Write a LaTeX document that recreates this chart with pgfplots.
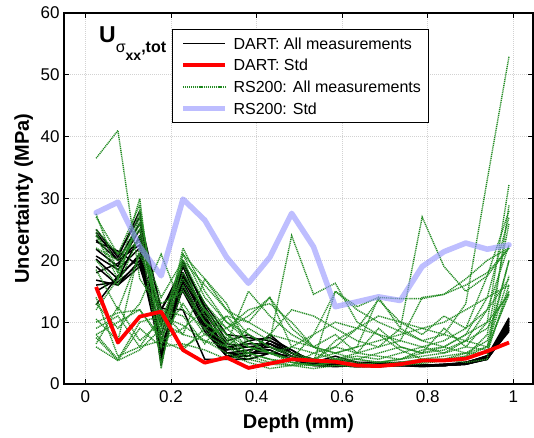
\documentclass[border=0pt]{standalone}
\usepackage{fontspec}
\setmainfont{Liberation Sans}
\usepackage{pgfplots}
\usepackage{pgfplotstable}
\pgfplotsset{compat=1.18}

\definecolor{rsgreen}{RGB}{34,139,34}
\definecolor{rsblue}{RGB}{150,150,255}

% One row per measurement series, transposed into columns below.
\pgfplotstableread{
name k0 k1 k2 k3 k4 k5 k6 k7 k8 k9 k10 k11 k12 k13 k14 k15 k16 k17 k18 k19
x  0.025 0.076 0.127 0.177 0.228 0.279 0.330 0.381 0.431 0.482 0.533 0.584 0.635 0.685 0.736 0.787 0.838 0.889 0.939 0.990
b1  25   20.5 28   3    20   12   6    5    8    5    3.5  3    3    3    3    3    3    3.2  4    10.5
b2  24   21   27   12   19   11   5    4.5  7    5    3.5  3    2.8  3    3    3    3.2  3.3  4    10
b3  23.3 20   26   12.2 12   4    4    4    5    4    3    3    2.8  2.8  3    3    3    3.2  4.2  9.5
b4  21.8 19   25   9.8  18   10   5    5.5  6    4.5  3.5  3    3    3    3    2.8  3    3.5  4.5  9
b5  20.7 18.5 22   4    17   10.5 5.5  6    5.5  4    3.5  3.2  3.2  3    3    3    3    3.4  4.2  8.5
b6  20.2 17   21   6    16   9.5  4.5  5    5    4    3    3    3    3.3  3.5  3    3    3.2  4    8.8
b7  19   16   20   5    15.5 9    4.5  4.5  6.5  4.5  3.2  3    3    3    3    3    3    3.3  4.3  9.8
b8  16.8 16   19   9.5  19.5 12.5 7    8    6    4.5  3.5  4    3.5  3    3.5  3    3    3.5  4.5  10.7
b9  16   16.5 19.5 12   18   11   5.5  7    7.5  5.5  3.5  4.5  3.5  3.5  3    3    3    3.4  4.6  10.2
b10 12.8 17.5 20.5 7    17.5 10   6    6.5  6.5  5    4    3.5  3    3    3    3    3.2  3.5  4.4  9.2
b11 23   21.5 19   8    19   13   8    7.5  7    5.5  3.5  3    3    3.5  3.2  3    3    3.3  4    9
b12 18   19.5 23.5 4.5  16.5 9.5  5    5    5.5  4    3    2.8  3    3    3    3    3    3.2  4.1  8.7
b13 15   17   24   10.5 15   8.5  4.5  4    5    4.5  3.2  3.5  3.2  3.2  3    3    3    3.3  4.5  9.6
b14 24.5 20   22.5 5.5  17   11.5 6.5  6    6.5  5    4    3.3  3    3    3    3    3    3.5  4.3  10.3
}\dartraw

\pgfplotstableread{
name k0 k1 k2 k3 k4 k5 k6 k7 k8 k9 k10 k11 k12 k13 k14 k15 k16 k17 k18 k19
x  0.025 0.076 0.127 0.177 0.228 0.279 0.330 0.381 0.431 0.482 0.533 0.584 0.635 0.685 0.736 0.787 0.838 0.889 0.939 0.990
g1  36.5 41   17   12   8    7    6    5    4    3.5  3    3.5  4    3.5  4    5    6    8    10   14.5
g2  27.5 18   30   2.5  21   17   12   8    6    5    4    5    6    7    8    9    10   12   14   16
g3  25   21   29   6    22   15   10   7    5    4    3.5  4    5    6    7    6    5    7    12   22.5
g4  24   17   27   10   20   13   9    6    5    3.5  3    4    4.5  4    5    6    7    9    17.5 28
g5  22   20   25   8    19.5 11   8    5    4    3    3    3.5  3    3.5  4    4.5  5    6    10   32.3
g6  18.5 12   21   13   15   10   7    4.5  3.5  3    2.5  3    3    3    3.5  4    4    5    7    20
g7  13   9    13   21   12   9    6.5  15   11   8    6    5    6    14   9    7    6    5    6    17.5
g8  10.5 7    22   12   11   6.5  11   10   14   6    5    4    4    5    6    5    5.5  7    9    15
g9  10   11.5 12   7    9    12   6    9    7    24   14.5 16.3 10   8    5.5  4    4    3.5  4    29
g10 8    4    10   11   6    8    9    12   13   10   6    8    5    4.5  4    5.5  6    8    14   27
g11 7.5  3.8  9    6    6.5  5.5  4    5    8    12   11   9    7    6    9    27   19   15   17.5 22
g12 6.5  12.5 7    10   8    17   13   6    5    4    3.5  15   12   10   8.5  7    8    13   33   53
g13 6    3.8  5.5  9    21   14   10   8    6    4.5  4    6    9    13.6 10   9    8    7    6    14.5
g14 9    11   6    7    5.5  9    11   7    5    6    8    10   9    8    7    14   14.5 17   20   22
g15 12   17   28   9    17   12   8    6    5    4    8    15   12.5 14   13.8 13.8 14.5 16   18   22
g16 27   21   23   14   20   16   12   10   8    7    6    5    4    3.5  3.5  4    4.5  5    5    16
g17 24.5 18   26   7    18   12   9    11   14   9    6    4    3.5  3    3    3.5  4    4.5  8    26
g18 20   16   24   3.5  16   10   7.5  5    4    3.5  3    3    2.8  2.8  3    3.3  3.8  4.5  6    20
g19 8    10   12   7.5  13   8    6    4    3.2  3    3.5  7    9    11   10   8    11   9    12   17
g20 14   4.5  6    11   9.5  7    5    3.5  2.5  3    5    6    5    9    6    5    9    6    5.5  15
}\rsraw

\pgfplotstableread{
name k0 k1 k2 k3 k4 k5 k6 k7 k8 k9 k10 k11 k12 k13 k14 k15 k16 k17 k18 k19
x    0.025 0.076 0.127 0.177 0.228 0.279 0.330 0.381 0.431 0.482 0.533 0.584 0.635 0.685 0.736 0.787 0.838 0.889 0.939 0.990
dart 15.7  6.7   10.9  11.7  5.5   3.45  4.3   2.6   3.3   4.0   3.8   3.6   3.0   2.9   3.2   3.8   3.8   4.1   5.3   6.7
rs   27.7  29.4  22.2  17.5  29.9  26.5  20.5  16.3  20.5  27.6  22.2  12.5  13.3  14.1  13.5  19.0  21.4  22.8  21.8  22.5
}\stdraw

\pgfplotstabletranspose[colnames from=name]\dart\dartraw
\pgfplotstabletranspose[colnames from=name]\rs\rsraw
\pgfplotstabletranspose[colnames from=name]\stdv\stdraw

\begin{document}
\begin{tikzpicture}
\begin{axis}[
  scale only axis,
  width=469pt, height=371pt,
  xmin=-0.05, xmax=1.046, ymin=0, ymax=60,
  xtick={0,0.2,0.4,0.6,0.8,1},
  xticklabels={0,0.2,0.4,0.6,0.8,1},
  ytick={0,10,20,30,40,50,60},
  tick align=inside,
  major tick length=5pt,
  axis line style={line width=1.2pt},
  every tick/.style={black, line width=0.9pt},
  grid=major,
  major grid style={gray!35, line width=0.7pt, dash pattern=on 1pt off 1pt},
  /pgf/number format/assume math mode=true,
  tick label style={font=\fontsize{17}{20}\selectfont},
  xticklabel style={yshift=-3pt},
  yticklabel style={xshift=-1pt},
  xlabel={Depth (mm)},
  label style={font=\fontsize{20}{24}\selectfont\bfseries},
  xlabel style={at={(rel axis cs:0.5,0)}, anchor=base, inner sep=0pt, yshift=-44pt},
  legend cell align=left,
  legend image code/.code={\draw[#1] (0pt,0pt) -- (42pt,0pt);},
  legend style={
    at={(0.2303,0.9569)}, anchor=north west,
    draw=black, line width=1.1pt, fill=white,
    inner xsep=8pt, inner ysep=5pt,
    font=\fontsize{16}{19}\selectfont,
    row sep=4.3pt,
    nodes={inner sep=0pt, text height=14.5pt, text depth=3pt},
    /tikz/every odd column/.append style={column sep=5.5pt},
  },
]
\coordinate (bl) at (rel axis cs:0,0);

% DART: every measurement
\pgfplotsinvokeforeach{1,...,14}{
  \addplot[black, line width=1.5pt, line join=round, forget plot]
    table[x=x, y=b#1]{\dart};
}
% RS200: every measurement
\pgfplotsinvokeforeach{1,...,20}{
  \addplot[rsgreen, line width=1.4pt, dash pattern=on 1.1pt off 0.8pt, forget plot]
    table[x=x, y=g#1]{\rs};
}
% Standard deviations
\addplot[red, line width=3.8pt, line join=round, forget plot]
  table[x=x, y=dart]{\stdv};
\addplot[rsblue, opacity=0.62, line width=5.5pt, line join=round, line cap=round, forget plot]
  table[x=x, y=rs]{\stdv};

\addlegendimage{black, line width=1.5pt}
\addlegendentry{DART: All measurements}
\addlegendimage{red, line width=3.8pt}
\addlegendentry{DART: Std}
\addlegendimage{rsgreen, line width=1.4pt, dash pattern=on 1.1pt off 0.8pt}
\addlegendentry{RS200: All measurements}
\addlegendimage{rsblue, opacity=0.62, line width=5.5pt}
\addlegendentry{RS200: Std}

\node[anchor=base west, inner sep=0pt] at ([xshift=35pt, yshift=-29pt]rel axis cs:0,1)
  {{\fontsize{23}{23}\selectfont\bfseries U}\raisebox{-10pt}{\fontsize{16}{16}\selectfont σ\raisebox{-8pt}{\fontsize{14}{14}\selectfont\bfseries xx}\bfseries ,tot}};
\end{axis}
\node[rotate=90, anchor=base, inner sep=0pt, font=\fontsize{20}{24}\selectfont\bfseries]
  at ([shift={(-35pt,185.5pt)}]bl) {Uncertainty (MPa)};
\pgfresetboundingbox
\path[use as bounding box] ([shift={(-64pt,-53pt)}]bl) rectangle ([shift={(470pt,384pt)}]bl);
\end{tikzpicture}
\end{document}
